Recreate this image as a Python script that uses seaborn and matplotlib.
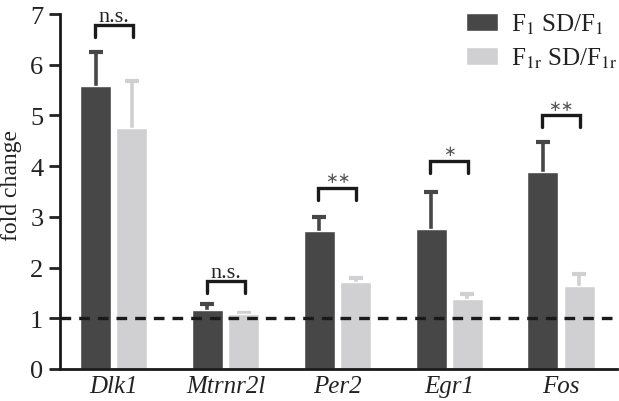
import numpy as np
import pandas as pd
import seaborn as sns
import matplotlib.pyplot as plt

genes = ['Dlk1', 'Mtrnr2l', 'Per2', 'Egr1', 'Fos']
groups = ['F$_{\\mathrm{1}}$ SD/F$_{\\mathrm{1}}$', 'F$_{\\mathrm{1r}}$ SD/F$_{\\mathrm{1r}}$']
f1_mean = [5.59, 1.16, 2.73, 2.76, 3.88]
f1_err = [0.66, 0.13, 0.27, 0.73, 0.59]
f1r_mean = [4.76, 1.08, 1.71, 1.39, 1.63]
f1r_err = [0.92, 0.03, 0.09, 0.08, 0.25]
sig_labels = ['n.s.', 'n.s.', '**', '*', '**']
bracket_y = [6.78, 1.73, 3.57, 4.10, 5.00]
yticks = [0, 1, 2, 3, 4, 5, 6, 7]

dark = '#474747'
light = '#d0d0d2'
txt = '#222222'

sns.set_theme(style='ticks')
plt.rcParams['font.family'] = ['Liberation Serif', 'DejaVu Sans']
plt.rcParams['mathtext.fontset'] = 'stix'

df = pd.DataFrame({
    'gene': genes * 2,
    'value': f1_mean + f1r_mean,
    'group': [groups[0]] * 5 + [groups[1]] * 5,
})

fig = plt.figure(figsize=(6.19, 4.02), dpi=100)
ax = fig.add_axes([60 / 619, 1 - 370 / 402, 557 / 619, (370 - 15) / 402])

sns.barplot(data=df, x='gene', y='value', hue='group', palette=[dark, light],
            width=0.65, gap=0.15, saturation=1, errorbar=None, ax=ax, zorder=2)

errs = [f1_err, f1r_err]
cols = [dark, light]
for cont, e, c in zip(ax.containers, errs, cols):
    xs = [p.get_x() + p.get_width() / 2 for p in cont.patches]
    ys = [p.get_height() for p in cont.patches]
    _, caps, _ = ax.errorbar(xs, ys, yerr=[np.zeros(len(e)), e], fmt='none', ecolor=c,
                             elinewidth=2.6, capsize=5, capthick=3, zorder=1)
    caps[0].set_visible(False)

ax.axhline(1, color='#1a1a1a', lw=2.4, ls=(0, (3.2, 2.4)), zorder=3)

for i, (lab, by) in enumerate(zip(sig_labels, bracket_y)):
    x0, x1 = i - 0.17, i + 0.17
    ax.plot([x0, x0, x1, x1], [by - 0.23, by, by, by - 0.23], color='#1a1a1a',
            lw=2.4, solid_joinstyle='miter', clip_on=False)
    if lab == 'n.s.':
        ax.text(i, by + 0.09, lab, ha='center', va='baseline', fontsize=16, color=txt)
    else:
        ax.text(i, by + 0.2, lab.replace('*', '\u2217'), ha='center', va='center',
                fontsize=11, color='#555555', family='DejaVu Sans')

ax.set_ylim(0, 7)
ax.set_xlim(-0.48, 4.5)
ax.set_yticks(yticks)
ax.set_yticklabels([str(t) for t in yticks])
ax.tick_params(axis='y', length=8, width=2, labelsize=19, colors=txt, pad=4)
ax.tick_params(axis='x', length=0, labelsize=18, colors=txt, pad=4)
for lbl in ax.get_xticklabels():
    lbl.set_style('italic')
ax.set_xlabel('')
ax.set_ylabel('fold change', fontsize=17, color=txt)
ax.yaxis.set_label_coords(-0.068, 0.52)
sns.despine(ax=ax)
for s in ['left', 'bottom']:
    ax.spines[s].set_linewidth(2)
    ax.spines[s].set_color('#1a1a1a')

leg = ax.legend(loc='upper right', bbox_to_anchor=(1.0 + 10 / 557, 1.035), frameon=False,
                borderaxespad=0, fontsize=18, handlelength=1.3, handleheight=0.75,
                handletextpad=0.5, labelspacing=0.4)
for t in leg.get_texts():
    t.set_color(txt)

fig.savefig('out.png', dpi=100)
